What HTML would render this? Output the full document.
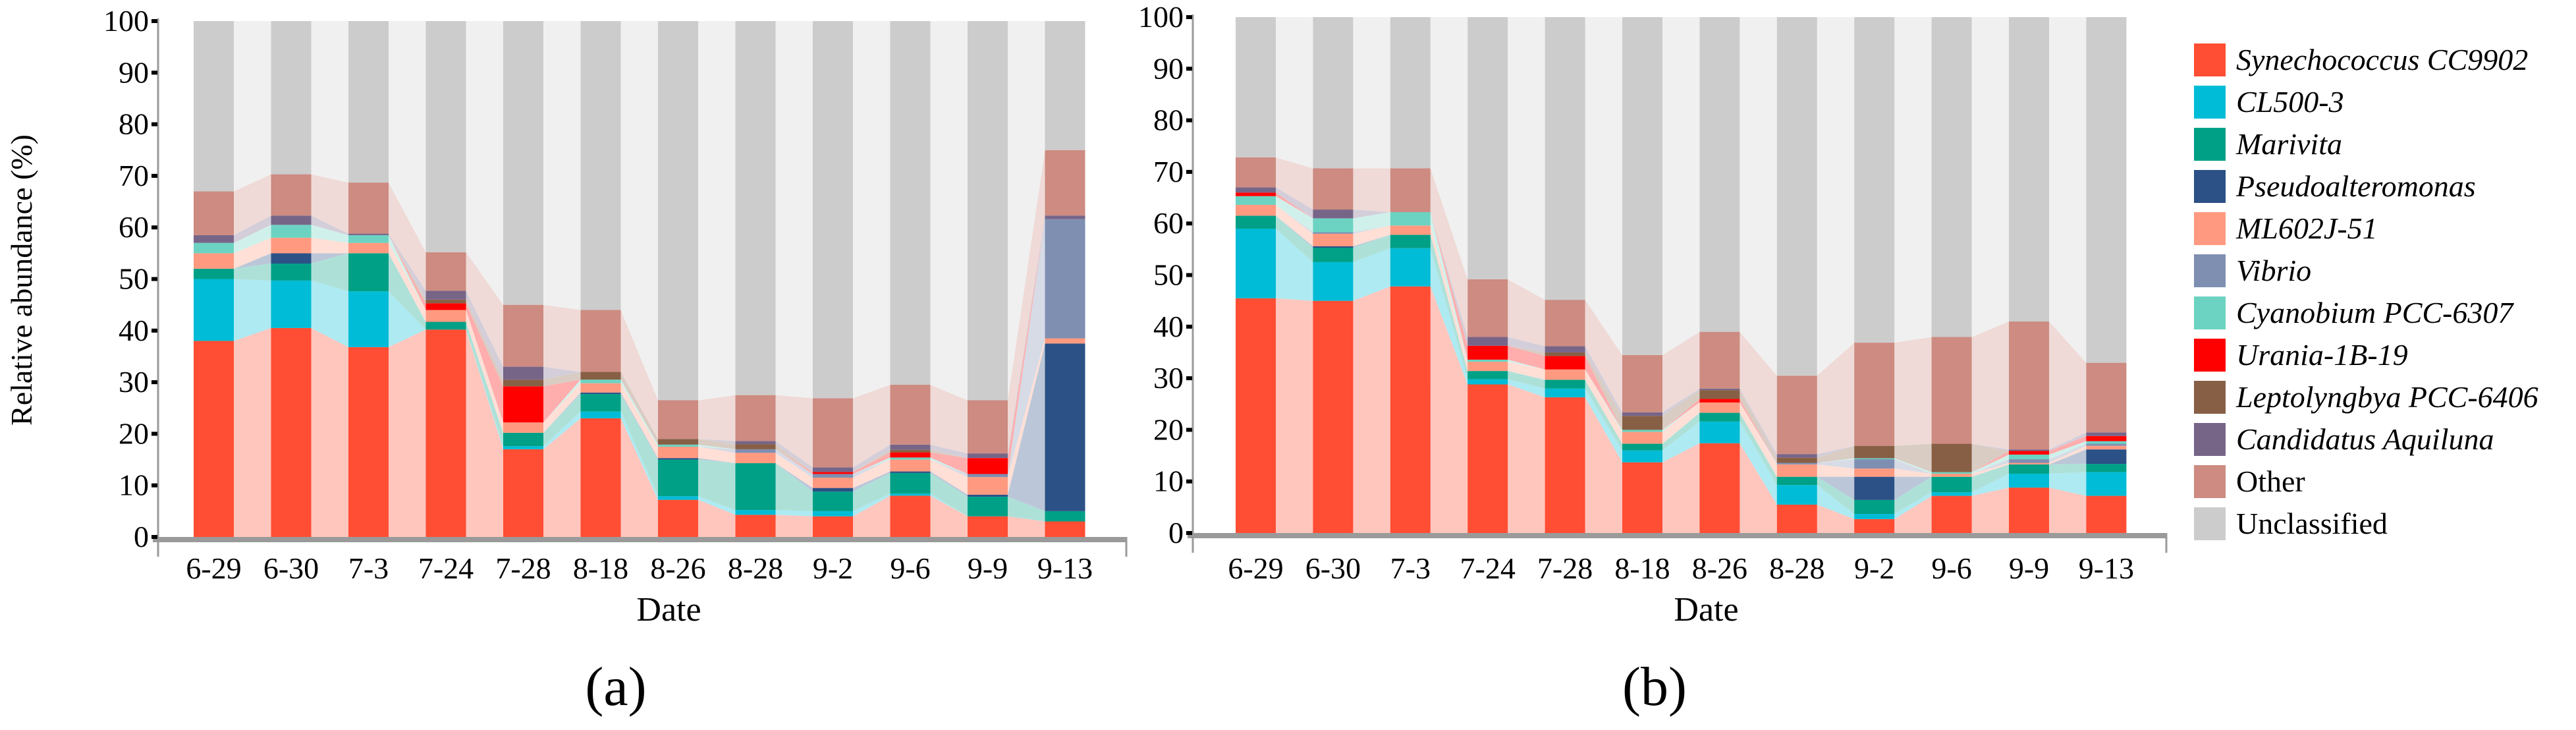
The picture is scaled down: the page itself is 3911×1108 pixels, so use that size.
<!DOCTYPE html>
<html><head><meta charset="utf-8"><style>
html,body{margin:0;padding:0;background:#fff;}
svg{display:block;}
svg text{font-family:"Liberation Serif","Times New Roman",serif;fill:#000;}
</style></head><body>
<svg id="chart" width="3911" height="1108" viewBox="0 0 3911 1108" xmlns="http://www.w3.org/2000/svg" font-family="Liberation Serif, Times New Roman, serif"></svg>
<script>
const categories = ["6-29","6-30","7-3","7-24","7-28","8-18","8-26","8-28","9-2","9-6","9-9","9-13"];
const yTicks = [0,10,20,30,40,50,60,70,80,90,100];
const seriesNames = ["Synechococcus CC9902","CL500-3","Marivita","Pseudoalteromonas","ML602J-51","Vibrio","Cyanobium PCC-6307","Urania-1B-19","Leptolyngbya PCC-6406","Candidatus Aquiluna","Other","Unclassified"];
const seriesColors = ["#ff4e33","#00bcd6","#00a086","#2b5186","#ff9a80","#7f8fb2","#6cd3c2","#ff0000","#875f45","#776588","#cd8b81","#cccccc"];
const italicNames = [true,true,true,true,true,true,true,true,true,true,false,false];

// Chart (a) values (%)
const synA = [38,40.5,36.8,40.2,17,23,7.2,4.3,4,8,4,3];
const clA  = [12,9.2,10.8,0,0.6,1.3,0.7,0.9,1,0.4,0,0];
const marA = [2,3.3,7.4,1.5,2.6,3.4,7.1,9.1,3.8,4,3.8,2];
const pseA = [0,2,0,0,0,0.3,0.3,0,0.7,0.3,0.4,32.5];
const mlA  = [3,3,2,2.3,2,1.8,2.2,2,2,2.3,3.4,1];
const vibA = [0,0,0,0,0,0,0,0.7,0.7,0,0.6,23.1];
const cyaA = [2,2.5,1.5,0,0,0.7,0.4,0,0,0.4,0,0];
const uraA = [0,0,0,1.3,7,0,0,0,0.4,1,3.1,0];
const lepA = [0,0,0,0.7,1.3,1.5,1.1,1,0,0.5,0,0];
const canA = [1.5,1.8,0.3,1.7,2.5,0,0,0.6,0.9,1,0.9,0.7];
const othA = [8.5,8,9.9,7.5,12,12,7.5,8.9,13.4,11.6,10.3,12.7];

// Chart (b) values (%)
const synB = [45.5,45,47.8,28.8,26.3,13.7,17.4,5.5,2.7,7.2,8.8,7.2];
const clB  = [13.5,7.5,7.4,1,1.7,2.3,4.2,3.8,1,0.7,2.7,4.6];
const marB = [2.5,2.8,2.6,1.6,1.7,1.3,1.7,1.6,2.7,3,1.8,1.6];
const pseB = [0,0.3,0,0,0,0,0,0,4.5,0,0,2.8];
const mlB  = [2.1,2.4,1.8,1.8,2,2.3,2,2.4,1.6,0.6,0.3,0.7];
const vibB = [0,0.3,0,0,0,0,0,0.3,1.8,0,0.7,0.4];
const cyaB = [1.7,2.7,2.6,0.4,0,0.4,0,0,0.2,0.3,0.9,0.5];
const uraB = [0.7,0,0,2.7,2.6,0,0.7,0,0,0,0.7,1];
const lepB = [0,0,0,0,0.7,2.7,1.7,1,2.4,5.5,0,0];
const canB = [1,1.7,0,1.7,1.2,0.7,0.3,0.7,0,0,0.3,0.7];
const othB = [5.8,8,8.5,11.2,9,11.1,11,15.2,20,20.7,24.8,13.5];

const NS = "http://www.w3.org/2000/svg";
const FONT = "Liberation Serif, Times New Roman, serif";
const svg = document.getElementById("chart");
function mk(tag, attrs, parent){
  const e = document.createElementNS(NS, tag);
  for (const k in attrs) e.setAttribute(k, attrs[k]);
  if (tag === "text") e.setAttribute("font-family", FONT);
  (parent||svg).appendChild(e);
  return e;
}
function hexA(hex, a){
  const r=parseInt(hex.slice(1,3),16),g=parseInt(hex.slice(3,5),16),b=parseInt(hex.slice(5,7),16);
  const m=v=>Math.round(255-(255-v)*a);
  return "rgb("+m(r)+","+m(g)+","+m(b)+")";
}

function drawChart(cfg){
  const {seriesList, axisX, axisEnd, y0, y100, firstBar, step, barW, label, labelX, name} = cfg;
  const g = mk("g", {});
  
  
  const yS = v => y0 - (y0 - y100) * v / 100;
  const xL = i => firstBar + i * step;
  const n = categories.length;
  const stacks = [];
  for (let i=0;i<n;i++){
    let c=0; const arr=[];
    for (let s=0;s<seriesList.length;s++){ arr.push([c, c+seriesList[s][i]]); c+=seriesList[s][i]; }
    arr.push([c,100]);
    stacks.push(arr);
  }
  const S = seriesList.length + 1;
  for (let i=0;i<n-1;i++){
    for (let s=0;s<S;s++){
      const a=stacks[i][s], b=stacks[i+1][s];
      if (a[1]-a[0] < 0.01 && b[1]-b[0] < 0.01) continue;
      const x1 = xL(i)+barW, x2 = xL(i+1);
      const p = mk("polygon", {points: x1+","+yS(a[0])+" "+x1+","+yS(a[1])+" "+x2+","+yS(b[1])+" "+x2+","+yS(b[0]), fill: hexA(seriesColors[s], s===S-1?0.3:0.32)}, g);
      
      
    }
  }
  for (let i=0;i<n;i++){
    for (let s=0;s<S;s++){
      const seg=stacks[i][s];
      if (seg[1]-seg[0] < 0.01) continue;
      const r = mk("rect", {x:xL(i), y:yS(seg[1]), width:barW, height:yS(seg[0])-yS(seg[1]), fill:seriesColors[s]}, g);
      
      
    }
    const t = mk("text", {x:xL(i)+barW/2, y:878, "font-size":46, "text-anchor":"middle"}, g);
    t.textContent = categories[i];
    
    
  }
  const ya = mk("line", {x1:axisX, y1:y100-4, x2:axisX, y2:y0+30, stroke:"#9a9a9a", "stroke-width":3}, g);
  
  
  const xa = mk("line", {x1:axisX-8, y1:y0+4, x2:axisEnd, y2:y0+4, stroke:"#9a9a9a", "stroke-width":8}, g);
  
  
  mk("line", {x1:axisEnd-1, y1:y0, x2:axisEnd-1, y2:y0+30, stroke:"#9a9a9a", "stroke-width":3}, g);
  for (const v of yTicks){
    const tk = mk("rect", {x:axisX-10, y:yS(v)-3, width:9, height:6, fill:"#000"}, g);
    
    
    const t = mk("text", {x:axisX-14, y:yS(v)+15, "font-size":46, "text-anchor":"end"}, g);
    t.textContent = v;
    
    
  }
  const dt = mk("text", {x:(axisX+axisEnd)/2+40, y:942, "font-size":52, "text-anchor":"middle"}, g);
  dt.textContent = "Date";
  
  
  const lb = mk("text", {x:labelX, y:1070, "font-size":84, "text-anchor":"middle"}, g);
  lb.textContent = label;
  
  
}

drawChart({seriesList:[synA,clA,marA,pseA,mlA,vibA,cyaA,uraA,lepA,canA,othA], axisX:240, axisEnd:1711, y0:815, y100:32, firstBar:294, step:117.5, barW:61, label:"(a)", labelX:935, name:"chart-a"});
drawChart({seriesList:[synB,clB,marB,pseB,mlB,vibB,cyaB,uraB,lepB,canB,othB], axisX:1811, axisEnd:3290, y0:809, y100:26, firstBar:1876, step:117.4, barW:61, label:"(b)", labelX:2512, name:"chart-b"});

const yt = mk("text", {x:0, y:0, "font-size":46, "text-anchor":"middle", transform:"translate(48,425) rotate(-90)"});
yt.textContent = "Relative abundance (%)";



const lg = mk("g", {});


for (let s=0;s<seriesNames.length;s++){
  const y = 66 + s*64;
  const sw = mk("rect", {x:3331, y:y, width:48, height:50, fill:seriesColors[s]}, lg);
  
  
  const t = mk("text", {x:3395, y:y+40, "font-size":46, "font-style":italicNames[s]?"italic":"normal"}, lg);
  t.textContent = seriesNames[s];
  
  
}
</script>
</body></html>
